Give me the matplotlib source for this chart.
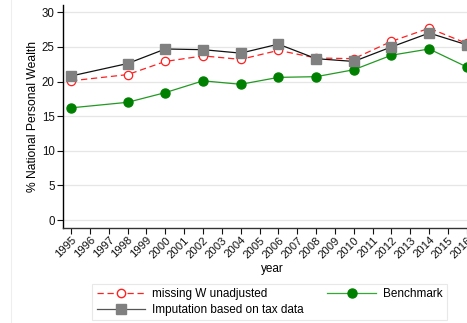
import matplotlib
matplotlib.use("Agg")
import matplotlib.pyplot as plt
from matplotlib.lines import Line2D

plt.rcParams['font.family'] = ['Liberation Sans', 'DejaVu Sans']

years = [1995, 1998, 2000, 2002, 2004, 2006, 2008, 2010, 2012, 2014, 2016]
missing_w = [20.1, 21.0, 22.9, 23.7, 23.2, 24.5, 23.4, 23.3, 25.8, 27.7, 25.5]
imputation = [20.8, 22.6, 24.7, 24.6, 24.1, 25.4, 23.3, 22.9, 25.0, 27.0, 25.3]
benchmark = [16.2, 17.0, 18.4, 20.1, 19.6, 20.6, 20.7, 21.7, 23.8, 24.7, 22.1]
tick_years = list(range(1995, 2017))
y_ticks = [0, 5, 10, 15, 20, 25, 30]

W, H = 467, 323
fig = plt.figure(figsize=(W / 100, H / 100), dpi=100)
fig.patch.set_facecolor('white')

# axes extends slightly past the right figure edge
left_px, right_px, top_px, bottom_px = 63, 481, 5, 228
ax = fig.add_axes([left_px / W, 1 - bottom_px / H,
                   (right_px - left_px) / W, (bottom_px - top_px) / H])

ax.plot(years, missing_w, color='#ff2020', linestyle=(0, (5, 3)), lw=0.9,
        marker='o', markersize=6, markerfacecolor='white',
        markeredgecolor='#ff2020', markeredgewidth=0.9, zorder=3,
        label='missing W unadjusted')
ax.plot(years, imputation, color='#111111', lw=0.9,
        marker='s', markersize=7.5, markerfacecolor='#808080',
        markeredgecolor='#808080', zorder=4,
        label='Imputation based on tax data')
ax.plot(years, benchmark, color='#229922', lw=0.9,
        marker='o', markersize=6.5, markerfacecolor='#008000',
        markeredgecolor='#008000', zorder=3, label='Benchmark')

ax.set_xlim(1994.57, 2016.75)
ax.set_ylim(-1.15, 31.05)
ax.set_yticks(y_ticks)
ax.set_xticks(tick_years)
ax.set_xticklabels([str(y) for y in tick_years], rotation=45,
                   ha='right', va='top', rotation_mode='anchor', fontsize=8.1)
ax.tick_params(axis='y', labelsize=8.3, direction='out', length=4, width=0.8,
               pad=2, colors='#111111')
ax.tick_params(axis='x', direction='out', length=4, width=0.8, pad=1,
               colors='#111111')

ax.grid(axis='y', color='#e6e6e6', lw=0.9)
ax.set_axisbelow(True)
for s in ['top', 'right']:
    ax.spines[s].set_visible(False)
ax.spines['left'].set_linewidth(1.0)
ax.spines['bottom'].set_linewidth(1.0)
ax.spines['bottom'].set_color('#333333')

ax.set_ylabel('% National Personal Wealth', fontsize=8.7, labelpad=2)
ax.set_xlabel('year', fontsize=8.5, labelpad=2)

handles = [
    Line2D([], [], color='#ff2020', linestyle=(0, (5, 3)), lw=0.9, marker='o',
           markersize=6, markerfacecolor='white', markeredgecolor='#ff2020'),
    Line2D([], [], color='#555555', lw=0.9, marker='s', markersize=7.5,
           markerfacecolor='#808080', markeredgecolor='#808080'),
    Line2D([], [], color='#33aa33', lw=0.9, marker='o', markersize=6.5,
           markerfacecolor='#008000', markeredgecolor='#008000'),
]
labels = ['missing W unadjusted', 'Imputation based on tax data', 'Benchmark']
leg = fig.legend(handles, labels, ncol=2, loc='center',
                 bbox_to_anchor=((92 + 447) / 2 / W, 1 - 302 / H),
                 fontsize=8.5, frameon=True, fancybox=False,
                 edgecolor='#e3e3e3', handlelength=4.1, handletextpad=0.6,
                 columnspacing=2.0, labelspacing=0.3, borderpad=0.35)
leg.get_frame().set_linewidth(0.8)

# faint outer region border on the left
fig.add_artist(Line2D([11 / W, 11 / W], [0, 1], color='#eeeeee', lw=0.8,
                      transform=fig.transFigure))

fig.savefig('out.png', dpi=100)
